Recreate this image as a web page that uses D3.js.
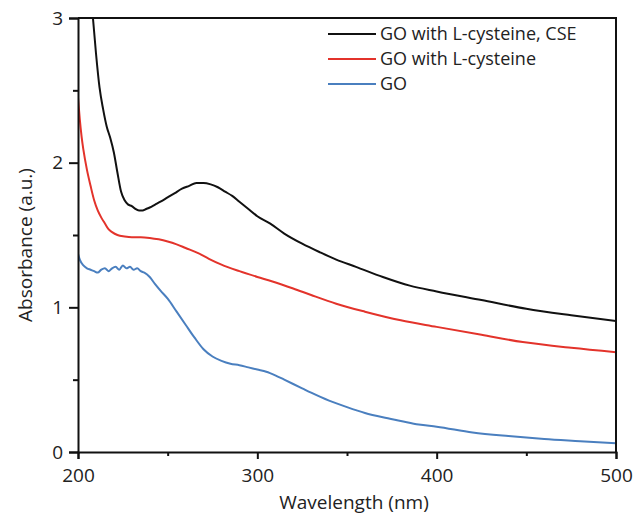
<!DOCTYPE html>
<html>
<head>
<meta charset="utf-8">
<script src="https://cdn.jsdelivr.net/npm/d3@7"></script>
<style>
  body { margin: 0; background: #fff; }
  text { font-family: "Open Sans", sans-serif; fill: #222; }
</style>
</head>
<body>
<div id="chart"></div>
<script>
// values
var seriesNames = ['GO with L-cysteine, CSE', 'GO with L-cysteine', 'GO'];
var seriesColors = ['#111111', '#e3332b', '#4a7fbf'];

var cseWl = [206, 208, 210, 212, 214, 216, 218, 220, 222, 224, 226, 228, 230, 232, 234, 236, 238, 240, 243, 246, 250, 254, 258, 262, 266, 270, 274, 278, 282, 286, 290, 295, 300, 307, 315, 325, 335, 344, 355, 370, 385, 400, 425, 450, 475, 500];
var cseAbs = [3.35, 3.05, 2.76, 2.52, 2.37, 2.25, 2.17, 2.07, 1.93, 1.80, 1.74, 1.71, 1.70, 1.68, 1.67, 1.67, 1.68, 1.69, 1.71, 1.73, 1.76, 1.79, 1.82, 1.84, 1.86, 1.86, 1.85, 1.83, 1.80, 1.77, 1.73, 1.68, 1.63, 1.58, 1.51, 1.44, 1.38, 1.33, 1.28, 1.21, 1.15, 1.11, 1.05, 0.99, 0.945, 0.905];

var cysWl = [200, 201, 202, 203, 205, 207, 209, 211, 213, 215, 217, 219, 222, 226, 230, 235, 240, 245, 250, 255, 260, 267, 273, 280, 290, 300, 308, 320, 330, 344, 360, 380, 400, 425, 448, 475, 500];
var cysAbs = [2.45, 2.30, 2.18, 2.09, 1.95, 1.84, 1.74, 1.67, 1.62, 1.58, 1.54, 1.52, 1.50, 1.49, 1.485, 1.485, 1.48, 1.47, 1.455, 1.435, 1.41, 1.375, 1.335, 1.295, 1.25, 1.21, 1.18, 1.13, 1.085, 1.025, 0.97, 0.91, 0.865, 0.81, 0.76, 0.72, 0.69];

var goWl = [200, 201, 203, 205, 207, 209, 211, 213, 215, 217, 219, 221, 223, 225, 227, 229, 231, 233, 235, 237, 240, 243, 246, 250, 255, 260, 265, 270, 275, 280, 285, 290, 295, 300, 305, 310, 315, 320, 325, 330, 340, 350, 360, 370, 380, 390, 400, 420, 440, 460, 480, 500];
var goAbs = [1.37, 1.33, 1.29, 1.27, 1.26, 1.25, 1.24, 1.26, 1.27, 1.25, 1.27, 1.28, 1.26, 1.29, 1.27, 1.28, 1.26, 1.27, 1.25, 1.24, 1.21, 1.16, 1.115, 1.06, 0.97, 0.88, 0.79, 0.71, 0.66, 0.63, 0.61, 0.60, 0.585, 0.57, 0.555, 0.53, 0.50, 0.47, 0.44, 0.41, 0.355, 0.31, 0.27, 0.24, 0.215, 0.19, 0.175, 0.135, 0.11, 0.09, 0.075, 0.06];

var xTicks = [200, 300, 400, 500];
var xMinor = [250, 350, 450];
var yTicks = [0, 1, 2, 3];
var yMinor = [0.5, 1.5, 2.5];

var width = 633, height = 514;
var plotLeft = 78, plotRight = 616, plotTop = 18, plotBottom = 452;

var svg = d3.select('#chart').append('svg')
    .attr('width', width)
    .attr('height', height);

var x = d3.scaleLinear().domain([200, 500]).range([plotLeft, plotRight]);
var y = d3.scaleLinear().domain([0, 3]).range([plotBottom, plotTop]);

svg.append('clipPath').attr('id', 'plotclip')
  .append('rect')
    .attr('x', plotLeft).attr('y', plotTop)
    .attr('width', plotRight - plotLeft).attr('height', plotBottom - plotTop);

var series = [
    { wl: cseWl, abs: cseAbs },
    { wl: cysWl, abs: cysAbs },
    { wl: goWl, abs: goAbs }
];

var line = d3.line()
    .x(function (d) { return x(d[0]) })
    .y(function (d) { return y(d[1]) })
    .curve(d3.curveMonotoneX);

var g = svg.append('g').attr('clip-path', 'url(#plotclip)');
// draw GO first so black ends on top
for (var i = series.length - 1; i >= 0; i--) {
    var pts = d3.zip(series[i].wl, series[i].abs);
    g.append('path')
        .datum(pts)
        .attr('d', line)
        .attr('fill', 'none')
        .attr('stroke', seriesColors[i])
        .attr('stroke-width', 2)
        .attr('stroke-linejoin', 'round');
}

// frame (top + right)
svg.append('path')
    .attr('d', 'M' + plotLeft + ',' + plotTop + 'H' + plotRight + 'V' + plotBottom)
    .attr('fill', 'none')
    .attr('stroke', '#111')
    .attr('stroke-width', 2);

// axes
var xAxis = svg.append('g')
    .attr('transform', 'translate(0,' + plotBottom + ')')
    .call(d3.axisBottom(x).tickValues(xTicks).tickSize(7).tickPadding(10).tickFormat(d3.format('d')));
var xAxisMinor = svg.append('g')
    .attr('transform', 'translate(0,' + plotBottom + ')')
    .call(d3.axisBottom(x).tickValues(xMinor).tickSize(4).tickFormat(''));
var yAxis = svg.append('g')
    .attr('transform', 'translate(' + plotLeft + ',0)')
    .call(d3.axisLeft(y).tickValues(yTicks).tickSize(9).tickPadding(6).tickFormat(d3.format('d')));
var yAxisMinor = svg.append('g')
    .attr('transform', 'translate(' + plotLeft + ',0)')
    .call(d3.axisLeft(y).tickValues(yMinor).tickSize(5).tickFormat(''));

[xAxis, xAxisMinor, yAxis, yAxisMinor].forEach(function (a) {
    a.select('.domain').attr('stroke', '#111').attr('stroke-width', 2);
    a.selectAll('.tick line').attr('stroke', '#111').attr('stroke-width', 2);
    a.selectAll('.tick text')
        .style('font-family', '"Open Sans", sans-serif')
        .style('font-size', '19px')
        .attr('fill', '#222');
});
xAxisMinor.select('.domain').remove();
yAxisMinor.select('.domain').remove();

// axis titles
svg.append('text')
    .attr('x', 354)
    .attr('y', 509)
    .attr('text-anchor', 'middle')
    .style('font-size', '19px')
    .text('Wavelength (nm)');

svg.append('text')
    .attr('transform', 'translate(32,245) rotate(-90)')
    .attr('text-anchor', 'middle')
    .style('font-size', '19px')
    .text('Absorbance (a.u.)');

// legend
var legend = svg.append('g');
seriesNames.forEach(function (name, i) {
    var yy = 34 + i * 25;
    legend.append('line')
        .attr('x1', 328).attr('x2', 376)
        .attr('y1', yy).attr('y2', yy)
        .attr('stroke', seriesColors[i])
        .attr('stroke-width', 2);
    legend.append('text')
        .attr('x', 380)
        .attr('y', yy)
        .attr('dy', '0.35em')
        .style('font-size', '18px')
        .text(name);
});
</script>
</body>
</html>
